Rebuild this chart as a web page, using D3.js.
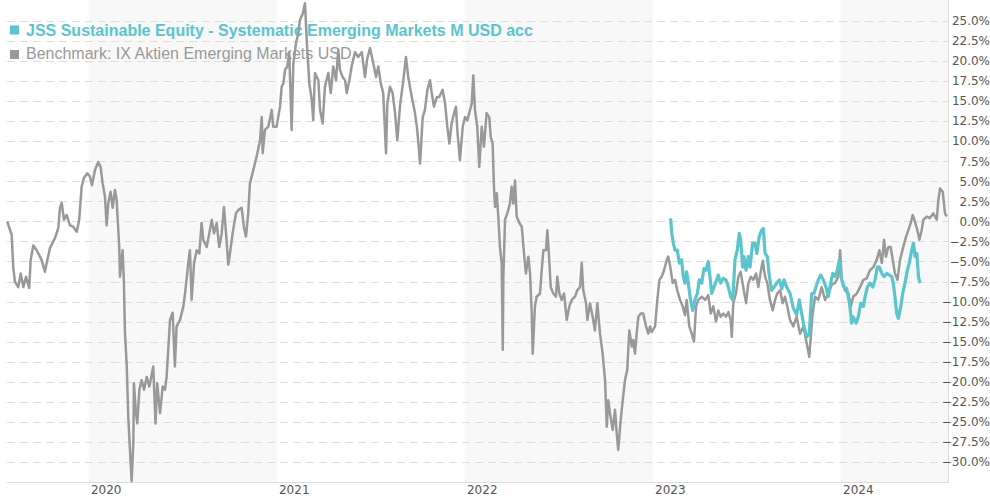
<!DOCTYPE html>
<html><head><meta charset="utf-8">
<script src="https://cdn.jsdelivr.net/npm/d3@7/dist/d3.min.js"></script>
<style>body{margin:0;background:#fff;} svg{display:block;}</style>
</head><body>
<svg id="c" width="990" height="500"></svg>
<script>
const seriesNames = ["JSS Sustainable Equity - Systematic Emerging Markets M USD acc", "Benchmark: IX Aktien Emerging Markets USD"];
const seriesColors = ["#5cc4cd", "#999999"];
const yearTicks = [2020, 2021, 2022, 2023, 2024];
const shadedYears = [2020, 2022, 2024];
const yTickValues = [25, 22.5, 20, 17.5, 15, 12.5, 10, 7.5, 5, 2.5, 0, -2.5, -5, -7.5, -10, -12.5, -15, -17.5, -20, -22.5, -25, -27.5, -30];
// [decimal year, cumulative performance %]
const benchmark = [[2019.565,0.0],[2019.589,-1.7],[2019.597,-5.7],[2019.606,-7.5],[2019.624,-8.2],[2019.637,-6.5],[2019.651,-8.2],[2019.665,-6.9],[2019.682,-8.3],[2019.690,-4.8],[2019.704,-3.0],[2019.722,-3.6],[2019.748,-4.8],[2019.766,-6.3],[2019.775,-5.2],[2019.793,-3.3],[2019.819,-2.1],[2019.837,-0.8],[2019.846,1.7],[2019.855,2.3],[2019.867,0.2],[2019.881,0.8],[2019.899,-0.5],[2019.917,-0.7],[2019.935,-1.3],[2019.948,0.2],[2019.961,4.3],[2019.973,5.4],[2019.991,6.0],[2020.005,5.6],[2020.016,4.5],[2020.032,6.4],[2020.049,7.4],[2020.062,6.8],[2020.073,4.7],[2020.085,3.1],[2020.094,-0.5],[2020.103,2.3],[2020.115,3.7],[2020.126,1.7],[2020.138,3.9],[2020.147,2.7],[2020.161,-3.2],[2020.165,-6.9],[2020.179,-3.6],[2020.186,-7.7],[2020.191,-13.6],[2020.201,-18.1],[2020.209,-24.4],[2020.218,-28.5],[2020.227,-32.4],[2020.236,-27.6],[2020.239,-20.2],[2020.250,-23.9],[2020.257,-25.2],[2020.268,-21.0],[2020.280,-19.8],[2020.293,-21.0],[2020.307,-19.4],[2020.321,-20.6],[2020.342,-18.1],[2020.354,-25.2],[2020.363,-20.2],[2020.378,-23.9],[2020.392,-20.6],[2020.404,-21.0],[2020.413,-19.4],[2020.431,-12.3],[2020.445,-11.4],[2020.457,-18.1],[2020.466,-13.1],[2020.484,-12.3],[2020.502,-10.6],[2020.511,-9.0],[2020.528,-5.2],[2020.537,-3.6],[2020.546,-9.8],[2020.559,-5.2],[2020.573,-3.6],[2020.587,-4.0],[2020.599,-0.2],[2020.608,-2.3],[2020.626,-3.2],[2020.640,-1.5],[2020.653,0.2],[2020.665,-1.5],[2020.679,-0.2],[2020.693,-3.2],[2020.706,-1.5],[2020.718,1.8],[2020.729,-1.5],[2020.741,-5.4],[2020.750,-4.0],[2020.764,-1.5],[2020.782,1.0],[2020.794,1.4],[2020.812,1.7],[2020.824,-0.7],[2020.835,-1.9],[2020.847,1.0],[2020.856,4.7],[2020.874,6.4],[2020.892,8.1],[2020.910,10.1],[2020.919,13.0],[2020.924,8.5],[2020.936,11.4],[2020.954,11.8],[2020.972,13.9],[2020.980,11.8],[2020.998,11.8],[2021.016,14.3],[2021.025,16.8],[2021.034,17.2],[2021.043,18.9],[2021.055,19.3],[2021.065,21.1],[2021.078,11.4],[2021.087,19.7],[2021.101,22.2],[2021.113,23.4],[2021.122,25.1],[2021.137,25.9],[2021.149,27.2],[2021.158,22.6],[2021.172,17.2],[2021.185,15.1],[2021.193,12.6],[2021.202,18.5],[2021.220,17.6],[2021.229,13.9],[2021.243,12.2],[2021.255,16.8],[2021.273,18.5],[2021.286,16.0],[2021.299,19.3],[2021.314,17.6],[2021.326,21.4],[2021.335,18.9],[2021.349,18.0],[2021.362,17.6],[2021.371,16.0],[2021.385,17.6],[2021.397,19.3],[2021.415,21.1],[2021.432,20.5],[2021.451,21.1],[2021.468,18.0],[2021.480,20.3],[2021.495,21.6],[2021.512,19.7],[2021.527,18.0],[2021.539,19.3],[2021.552,17.2],[2021.565,16.0],[2021.580,8.5],[2021.587,14.7],[2021.601,16.8],[2021.615,16.0],[2021.628,13.5],[2021.640,10.1],[2021.654,14.3],[2021.672,17.6],[2021.686,20.5],[2021.698,18.0],[2021.717,15.5],[2021.734,13.5],[2021.746,11.4],[2021.761,7.2],[2021.775,13.0],[2021.787,13.9],[2021.800,16.4],[2021.814,17.6],[2021.823,16.0],[2021.835,14.3],[2021.850,15.5],[2021.863,15.5],[2021.881,16.4],[2021.894,14.7],[2021.906,11.8],[2021.917,9.7],[2021.929,12.2],[2021.942,13.5],[2021.952,14.3],[2021.959,11.4],[2021.973,7.6],[2021.988,11.8],[2022.000,13.0],[2022.012,12.6],[2022.027,13.9],[2022.036,14.7],[2022.044,18.2],[2022.053,13.9],[2022.065,11.8],[2022.076,6.8],[2022.089,11.8],[2022.101,9.3],[2022.115,13.5],[2022.129,13.0],[2022.137,10.5],[2022.147,9.7],[2022.154,4.3],[2022.160,1.8],[2022.169,3.5],[2022.177,0.6],[2022.186,-3.2],[2022.195,-5.2],[2022.201,-16.0],[2022.204,-6.9],[2022.213,0.2],[2022.225,1.0],[2022.239,2.2],[2022.248,4.3],[2022.257,2.2],[2022.266,5.1],[2022.275,0.6],[2022.289,-0.2],[2022.302,-0.7],[2022.314,-4.0],[2022.324,-6.5],[2022.337,-4.4],[2022.346,-6.5],[2022.355,-11.5],[2022.360,-16.5],[2022.372,-10.6],[2022.381,-9.4],[2022.399,-9.0],[2022.408,-6.1],[2022.417,-3.6],[2022.431,-3.6],[2022.438,-1.1],[2022.448,-4.8],[2022.456,-8.2],[2022.470,-9.0],[2022.484,-9.4],[2022.491,-6.9],[2022.502,-9.0],[2022.514,-9.8],[2022.527,-9.0],[2022.541,-12.3],[2022.555,-10.6],[2022.568,-9.8],[2022.585,-9.4],[2022.597,-8.6],[2022.612,-8.2],[2022.621,-5.2],[2022.629,-8.6],[2022.644,-10.2],[2022.651,-12.3],[2022.665,-10.2],[2022.679,-11.9],[2022.691,-13.6],[2022.704,-10.2],[2022.718,-14.0],[2022.732,-16.5],[2022.745,-19.8],[2022.754,-25.6],[2022.762,-22.3],[2022.771,-23.9],[2022.786,-26.0],[2022.798,-23.5],[2022.807,-26.4],[2022.815,-28.5],[2022.828,-24.8],[2022.839,-22.3],[2022.851,-19.8],[2022.863,-18.5],[2022.874,-13.6],[2022.887,-15.6],[2022.895,-14.8],[2022.904,-16.5],[2022.913,-14.0],[2022.922,-11.9],[2022.935,-11.5],[2022.948,-11.5],[2022.963,-13.1],[2022.975,-14.0],[2022.984,-13.1],[2022.993,-13.8],[2023.011,-13.1],[2023.023,-9.8],[2023.034,-7.3],[2023.046,-6.9],[2023.059,-6.1],[2023.073,-4.8],[2023.081,-4.4],[2023.090,-5.4],[2023.105,-7.7],[2023.117,-7.3],[2023.129,-8.6],[2023.144,-9.8],[2023.158,-10.6],[2023.170,-11.7],[2023.179,-9.8],[2023.193,-13.1],[2023.206,-14.0],[2023.218,-15.0],[2023.229,-10.6],[2023.241,-9.8],[2023.259,-9.4],[2023.277,-9.8],[2023.294,-9.2],[2023.307,-11.5],[2023.321,-10.6],[2023.335,-12.5],[2023.347,-11.1],[2023.360,-11.9],[2023.374,-11.5],[2023.388,-11.9],[2023.401,-11.3],[2023.413,-12.3],[2023.419,-14.4],[2023.427,-10.2],[2023.441,-9.0],[2023.454,-6.9],[2023.466,-6.3],[2023.480,-8.2],[2023.495,-10.2],[2023.507,-7.7],[2023.520,-6.9],[2023.534,-7.3],[2023.548,-6.5],[2023.560,-8.2],[2023.573,-6.3],[2023.584,-4.9],[2023.596,-6.9],[2023.608,-7.7],[2023.622,-9.8],[2023.637,-11.1],[2023.649,-9.8],[2023.661,-9.0],[2023.676,-8.6],[2023.690,-10.2],[2023.702,-9.4],[2023.714,-10.6],[2023.729,-12.3],[2023.746,-13.1],[2023.764,-11.9],[2023.782,-14.0],[2023.800,-13.1],[2023.818,-15.3],[2023.831,-16.9],[2023.839,-14.4],[2023.849,-11.5],[2023.862,-9.4],[2023.879,-9.8],[2023.897,-8.2],[2023.915,-9.8],[2023.932,-9.0],[2023.951,-7.9],[2023.968,-7.7],[2023.986,-6.9],[2023.995,-3.6],[2024.004,-7.3],[2024.021,-8.6],[2024.039,-9.0],[2024.052,-10.6],[2024.065,-9.4],[2024.084,-9.0],[2024.101,-8.2],[2024.119,-7.3],[2024.137,-7.1],[2024.154,-6.1],[2024.172,-5.7],[2024.190,-4.8],[2024.204,-3.6],[2024.217,-5.2],[2024.229,-2.3],[2024.239,-4.4],[2024.252,-3.2],[2024.264,-3.2],[2024.275,-4.8],[2024.287,-6.5],[2024.300,-7.3],[2024.314,-4.8],[2024.331,-3.2],[2024.346,-1.9],[2024.358,-1.1],[2024.371,-0.2],[2024.381,0.8],[2024.394,-0.1],[2024.406,-1.1],[2024.417,-2.3],[2024.429,-1.1],[2024.438,0.2],[2024.456,0.6],[2024.473,0.4],[2024.491,1.0],[2024.509,0.2],[2024.518,2.7],[2024.527,4.1],[2024.541,3.7],[2024.553,1.0],[2024.562,0.6]];
const fund = [[2023.087,0.3],[2023.094,0.2],[2023.100,-1.5],[2023.108,-2.7],[2023.117,-3.6],[2023.129,-3.6],[2023.140,-5.2],[2023.152,-4.8],[2023.161,-6.9],[2023.170,-7.7],[2023.179,-6.3],[2023.188,-7.7],[2023.197,-9.4],[2023.211,-11.1],[2023.223,-9.8],[2023.236,-9.0],[2023.246,-7.3],[2023.259,-7.7],[2023.271,-5.9],[2023.282,-6.1],[2023.294,-5.0],[2023.303,-6.9],[2023.312,-9.0],[2023.324,-8.2],[2023.339,-7.3],[2023.347,-6.7],[2023.360,-7.7],[2023.374,-7.1],[2023.388,-7.3],[2023.401,-8.2],[2023.413,-9.4],[2023.424,-9.8],[2023.436,-4.8],[2023.448,-3.6],[2023.459,-1.5],[2023.466,-2.3],[2023.477,-5.7],[2023.484,-4.4],[2023.495,-6.1],[2023.507,-4.4],[2023.516,-5.7],[2023.530,-2.7],[2023.543,-2.7],[2023.552,-4.0],[2023.565,-1.9],[2023.578,-1.1],[2023.587,-0.9],[2023.596,-4.0],[2023.608,-4.4],[2023.619,-6.9],[2023.631,-8.6],[2023.644,-8.2],[2023.658,-7.7],[2023.672,-7.3],[2023.685,-8.4],[2023.697,-7.3],[2023.711,-8.2],[2023.729,-9.0],[2023.746,-10.8],[2023.764,-11.7],[2023.778,-9.8],[2023.791,-11.5],[2023.803,-13.1],[2023.818,-14.4],[2023.831,-14.0],[2023.844,-9.0],[2023.856,-9.0],[2023.867,-8.2],[2023.879,-7.3],[2023.892,-6.7],[2023.906,-7.3],[2023.920,-8.2],[2023.932,-9.4],[2023.945,-7.7],[2023.956,-6.5],[2023.968,-6.9],[2023.980,-6.1],[2023.991,-4.8],[2024.004,-7.3],[2024.016,-8.2],[2024.030,-8.4],[2024.045,-10.2],[2024.057,-12.7],[2024.065,-11.9],[2024.080,-12.7],[2024.092,-11.9],[2024.105,-10.2],[2024.119,-10.6],[2024.128,-9.4],[2024.140,-8.2],[2024.154,-7.7],[2024.169,-8.2],[2024.181,-7.3],[2024.193,-5.7],[2024.204,-5.7],[2024.217,-6.5],[2024.229,-6.9],[2024.243,-6.5],[2024.257,-6.7],[2024.270,-6.9],[2024.278,-7.7],[2024.287,-9.4],[2024.296,-11.5],[2024.305,-12.1],[2024.318,-10.6],[2024.328,-9.0],[2024.340,-7.7],[2024.353,-6.1],[2024.363,-5.2],[2024.376,-3.6],[2024.385,-2.7],[2024.394,-4.4],[2024.403,-4.0],[2024.412,-6.9],[2024.420,-7.7]];

const svg = d3.select("#c");
const plotL = 7, plotR = 948, plotT = 0, plotB = 482;
const x = d3.scaleLinear().domain([2019.564, 2024.569]).range([plotL, plotR]);
const y = d3.scaleLinear().domain([-32.5, 27.6]).range([plotB, plotT]);

// alternating year bands
svg.append("g").selectAll("rect").data(shadedYears).join("rect")
  .attr("x", d => x(d))
  .attr("y", plotT)
  .attr("width", d => Math.min(x(d + 1), plotR) - x(d))
  .attr("height", plotB - plotT)
  .attr("fill", "#f8f8f8");

// dashed gridlines
svg.append("g").selectAll("line").data(yTickValues).join("line")
  .attr("x1", plotL).attr("x2", plotR)
  .attr("y1", d => Math.round(y(d)) + 0.5).attr("y2", d => Math.round(y(d)) + 0.5)
  .attr("stroke", "#dedede").attr("stroke-width", 1)
  .attr("stroke-dasharray", "8,5");

// axes lines
svg.append("line").attr("x1", plotL).attr("x2", plotR + 1).attr("y1", plotB + 0.5).attr("y2", plotB + 0.5).attr("stroke", "#dddddd");
svg.append("line").attr("x1", plotR + 0.5).attr("x2", plotR + 0.5).attr("y1", plotT).attr("y2", plotB + 1).attr("stroke", "#dddddd");

// right axis labels
const fmt = d3.format(".1f");
svg.append("g").selectAll("text").data(yTickValues).join("text")
  .attr("x", 990).attr("y", d => y(d)).attr("dy", "0.36em")
  .attr("text-anchor", "end")
  .attr("font-family", "'DejaVu Sans', Verdana, sans-serif").attr("font-size", 12)
  .attr("fill", "#555555")
  .text(d => fmt(d) + "%");

// bottom axis labels
svg.append("g").selectAll("text").data(yearTicks).join("text")
  .attr("x", d => x(d) + 2).attr("y", 493.5)
  .attr("font-family", "'DejaVu Sans', Verdana, sans-serif").attr("font-size", 12)
  .attr("fill", "#555555")
  .text(d => d);

// legend (behind lines)
const lg = svg.append("g");
seriesNames.forEach((name, i) => {
  lg.append("rect").attr("x", 10).attr("y", 25.5 + i * 24.5).attr("width", 9).attr("height", 9).attr("fill", seriesColors[i]);
  lg.append("text").attr("x", 26).attr("y", 35.5 + i * 23.5)
    .attr("font-family", "'Liberation Sans', Arial, sans-serif").attr("font-size", 16)
    .attr("font-weight", i === 0 ? "bold" : "normal")
    .attr("fill", seriesColors[i]).text(name);
});

const line = d3.line().x(d => x(d[0])).y(d => y(d[1]));
svg.append("path").datum(benchmark).attr("d", line).attr("fill", "none")
  .attr("stroke", seriesColors[1]).attr("stroke-width", 2.5).attr("stroke-linejoin", "round");
svg.append("path").datum(fund).attr("d", line).attr("fill", "none")
  .attr("stroke", seriesColors[0]).attr("stroke-width", 3.2).attr("stroke-linejoin", "round");
</script>
</body></html>
